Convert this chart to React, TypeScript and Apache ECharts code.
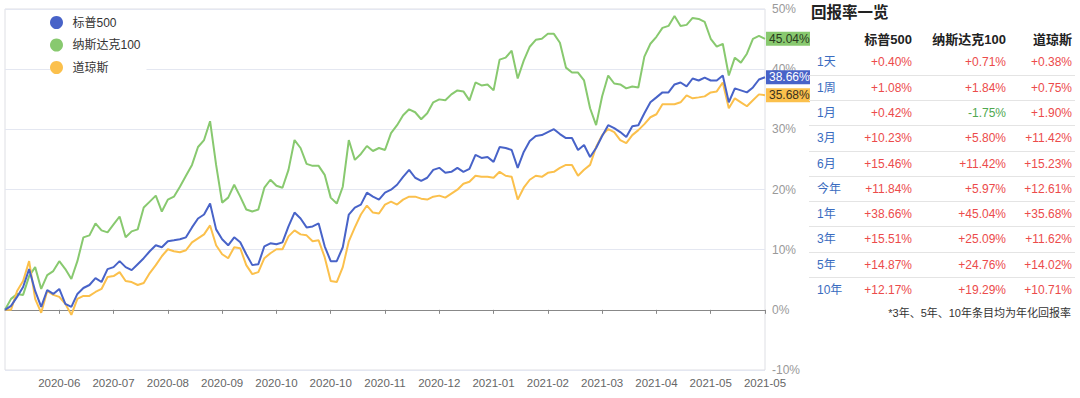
import React, { useEffect, useRef } from "react";
import * as echarts from "echarts";

const FONT = '"Liberation Sans", "Noto Sans CJK SC", sans-serif';

const seriesNames = ["标普500", "纳斯达克100", "道琼斯"];
const seriesColors = ["#4863c8", "#88c96f", "#fbc04c"];
const endLabelTextColors = ["#ffffff", "#2a3a20", "#3a3020"];

const tickLabels = [
  "2020-05", "2020-06", "2020-07", "2020-08", "2020-09", "2020-10", "2020-10", "2020-11",
  "2020-12", "2021-01", "2021-02", "2021-03", "2021-04", "2021-05", "2021-05",
];
const LABEL_EVERY = 9;

const sp500 = [
  0, 0.66, 2.15, 3.8, 6.77, 3.14, 0.5, 3.3, 2.64, 3.47,
  0.99, 0.5, 2.64, 3.63, 4.13, 5.28, 4.62, 6.77, 7.1, 8.09,
  7.1, 6.6, 7.59, 8.58, 9.74, 10.73, 10.4, 11.39, 11.55, 11.72,
  12.05, 13.7, 15.18, 15.84, 17.66, 13.37, 11.72, 10.73, 12.05, 11.22,
  9.24, 7.43, 7.59, 10.56, 11.06, 10.89, 11.22, 13.86, 16.17, 15.18,
  13.7, 13.86, 14.36, 10.56, 8.09, 8.09, 10.4, 15.84, 17.0, 17.49,
  19.47, 18.81, 18.32, 19.47, 19.97, 20.79, 22.11, 23.27, 21.95, 21.45,
  21.95, 23.27, 23.6, 22.77, 22.94, 23.6, 22.94, 23.43, 25.74, 25.25,
  25.41, 24.59, 27.06, 26.9, 26.57, 23.6, 26.24, 28.05, 28.88, 29.04,
  29.54, 30.03, 29.21, 28.55, 28.55, 26.57, 27.39, 25.41, 26.9, 28.88,
  30.69, 30.2, 29.54, 28.71, 30.53, 30.69, 32.67, 34.49, 35.31, 36.14,
  36.14, 37.46, 37.79, 37.13, 38.45, 38.12, 38.61, 38.12, 38.12, 38.94,
  34.5, 36.8, 36.47, 36.14, 36.96, 38.28, 38.66,
];

const nasdaq100 = [
  0, 1.82, 2.64, 2.48, 5.61, 7.1, 3.47, 5.78, 6.44, 8.09,
  6.77, 5.12, 8.09, 12.05, 12.38, 14.36, 13.2, 12.87, 14.19, 15.51,
  12.05, 13.04, 13.37, 17.0, 17.99, 18.98, 16.34, 18.32, 18.81, 20.46,
  22.28, 24.09, 27.06, 28.22, 31.35, 24.09, 17.82, 18.65, 20.79, 18.81,
  16.67, 16.34, 16.67, 20.3, 21.62, 20.63, 20.3, 23.27, 28.22, 26.9,
  24.26, 23.93, 23.93, 22.44, 18.65, 17.66, 20.46, 28.22, 24.92, 25.91,
  27.23, 26.4, 26.9, 26.57, 29.37, 30.69, 32.34, 33.33, 32.84, 31.68,
  32.67, 34.49, 34.98, 34.82, 35.81, 36.47, 36.3, 34.82, 37.79, 37.29,
  37.46, 36.47, 41.58, 41.91, 43.07, 38.45, 41.42, 43.73, 44.88, 45.05,
  45.87, 45.87, 44.39, 40.26, 39.44, 39.44, 38.12, 33.5, 30.7, 35.5,
  38.94, 37.62, 37.46, 36.8, 37.13, 36.96, 42.08, 44.22, 45.38, 46.86,
  47.19, 48.84, 47.19, 47.36, 48.51, 48.35, 47.85, 45.05, 43.73, 44.22,
  38.94, 41.91, 41.09, 42.57, 45.05, 45.54, 45.04,
];

const dowJones = [
  0, 0, 3.14, 4.79, 8.09, 1.82, -0.5, 3.14, 2.48, 2.15,
  0.99, -0.83, 1.82, 2.31, 2.31, 2.97, 3.47, 5.45, 5.61, 6.27,
  4.79, 4.62, 4.13, 4.46, 6.11, 7.43, 8.91, 10.07, 9.74, 9.57,
  9.9, 11.22, 11.88, 12.54, 14.03, 10.73, 9.24, 8.58, 10.4, 10.23,
  7.43, 5.94, 6.27, 8.58, 9.41, 10.07, 10.07, 12.21, 13.2, 12.54,
  12.38, 11.39, 11.55, 8.75, 4.79, 4.62, 7.1, 11.39, 13.7, 15.84,
  17.33, 16.17, 16.01, 17.49, 17.99, 17.49, 18.32, 18.81, 18.81, 18.48,
  18.32, 18.81, 18.98, 18.65, 19.31, 19.97, 20.96, 21.29, 22.28, 22.11,
  22.11, 21.95, 22.94, 22.28, 22.11, 18.32, 20.3, 21.62, 22.28, 22.11,
  22.77, 22.94, 23.6, 24.09, 24.09, 22.28, 23.27, 24.09, 27.06, 29.04,
  30.03, 29.54, 28.22, 27.72, 29.04, 29.87, 30.86, 32.01, 32.51, 34.16,
  34.16, 34.16, 34.49, 35.64, 35.15, 35.31, 35.48, 36.14, 36.3, 37.79,
  33.5, 35.15, 34.49, 33.83, 34.82, 35.81, 35.68,
];

const categories = sp500.map((_, i) => String(i));

const periods = ["1天", "1周", "1月", "3月", "6月", "今年", "1年", "3年", "5年", "10年"];
const sp500Returns = [0.4, 1.08, 0.42, 10.23, 15.46, 11.84, 38.66, 15.51, 14.87, 12.17];
const nasdaqReturns = [0.71, 1.84, -1.75, 5.8, 11.42, 5.97, 45.04, 25.09, 24.76, 19.29];
const dowReturns = [0.38, 0.75, 1.9, 11.42, 15.23, 12.61, 35.68, 11.62, 14.02, 10.71];

const fmtPct = (v: number) => (v >= 0 ? "+" : "") + v.toFixed(2) + "%";

function Chart() {
  const ref = useRef<HTMLDivElement>(null);
  useEffect(() => {
    if (!ref.current) return;
    const chart = echarts.init(ref.current, null, { renderer: "svg" });
    const allData = [sp500, nasdaq100, dowJones];
    const isLabel = (index: number) => index > 0 && index % LABEL_EVERY === 0;
    chart.setOption({
      animation: false,
      textStyle: { fontFamily: FONT },
      legend: {
        data: seriesNames,
        orient: "vertical",
        left: 50,
        top: 11,
        padding: [5, 6, 5, 0],
        backgroundColor: "#ffffff",
        icon: "circle",
        itemWidth: 22,
        itemHeight: 13,
        itemGap: 9.5,
        textStyle: { fontSize: 12, color: "#333", fontFamily: FONT },
      },
      grid: {
        left: 5,
        right: 45,
        top: 9,
        bottom: 28,
        show: true,
        borderColor: "#dedfe4",
        borderWidth: 1,
        outerBoundsMode: "none",
      },
      xAxis: [
        {
          type: "category",
          data: categories,
          boundaryGap: false,
          position: "bottom",
          axisLine: { show: false, onZero: false },
          axisTick: { show: false },
          splitLine: { show: false },
          axisLabel: {
            interval: (index: number) => isLabel(index),
            formatter: (_v: string, index: number) => tickLabels[index / LABEL_EVERY] ?? "",
            fontSize: 11.5,
            color: "#666",
            margin: 7,
            fontFamily: FONT,
          },
        },
        {
          type: "category",
          data: categories,
          boundaryGap: false,
          position: "top",
          axisLine: { show: true, onZero: true, lineStyle: { color: "#888", width: 1 } },
          axisTick: {
            show: true,
            inside: true,
            length: 4,
            interval: (index: number) => isLabel(index),
            lineStyle: { color: "#888" },
          },
          axisLabel: { show: false },
          splitLine: { show: false },
        },
      ],
      yAxis: {
        type: "value",
        position: "right",
        min: -10,
        max: 50,
        interval: 10,
        axisLine: { show: false },
        axisTick: { show: false },
        splitLine: { show: true, lineStyle: { color: "#e4e7f1", width: 1 } },
        axisLabel: {
          formatter: "{value}%",
          fontSize: 12,
          color: "#999",
          margin: 7,
          fontFamily: FONT,
        },
      },
      series: seriesNames.map((name, k) => ({
        name,
        type: "line",
        xAxisIndex: 0,
        data: allData[k],
        symbol: "none",
        showSymbol: false,
        smooth: false,
        color: seriesColors[k],
        lineStyle: { width: 2, color: seriesColors[k] },
        z: k === 0 ? 4 : 3,
        endLabel: {
          show: true,
          formatter: (p: any) => Number(p.value).toFixed(2) + "%",
          backgroundColor: seriesColors[k],
          color: endLabelTextColors[k],
          padding: [1, 3, 1, 3],
          fontSize: 12,
          distance: 1,
          fontFamily: FONT,
        },
      })),
    });
    return () => chart.dispose();
  }, []);
  return <div ref={ref} style={{ position: "absolute", left: 0, top: 0, width: 810, height: 398 }} />;
}

const RED = "#ec4b4b";
const GREEN = "#4fa84f";
const BLUE = "#3a6cc0";
const ROW_TOP = 50.35;
const ROW_H = 25.3;
const colRights = [163, 69, 3];

function Table() {
  const cols = [sp500Returns, nasdaqReturns, dowReturns];
  return (
    <div style={{ position: "absolute", left: 810, top: 0, width: 270, height: 398, fontFamily: FONT }}>
      <div style={{ position: "absolute", left: 1, top: 3, fontSize: 15.5, fontWeight: 700, color: "#222", lineHeight: "20px", whiteSpace: "nowrap" }}>
        回报率一览
      </div>
      <div style={{ position: "absolute", left: -1, top: 30, width: 266, height: 20 }}>
        {seriesNames.map((n, k) => (
          <div key={n} style={{ position: "absolute", right: colRights[k], top: 0, lineHeight: "20px", fontSize: 13, fontWeight: 600, color: "#222", whiteSpace: "nowrap" }}>
            {n}
          </div>
        ))}
      </div>
      {periods.map((p, i) => (
        <div
          key={p}
          style={{
            position: "absolute",
            left: -1,
            top: ROW_TOP + i * ROW_H,
            width: 266,
            height: ROW_H,
            boxSizing: "border-box",
            borderBottom: i < periods.length - 1 ? "1px solid #e4e4e4" : "none",
            fontSize: 12,
          }}
        >
          <div style={{ position: "absolute", left: 8, top: 0, lineHeight: ROW_H + "px", color: BLUE, whiteSpace: "nowrap" }}>{p}</div>
          {cols.map((c, k) => (
            <div key={k} style={{ position: "absolute", right: colRights[k], top: 0, lineHeight: ROW_H + "px", color: c[i] < 0 ? GREEN : RED, whiteSpace: "nowrap" }}>
              {fmtPct(c[i])}
            </div>
          ))}
        </div>
      ))}
      <div style={{ position: "absolute", right: 9, top: 306, fontSize: 11, lineHeight: "14px", color: "#333", whiteSpace: "nowrap" }}>
        *3年、5年、10年条目均为年化回报率
      </div>
    </div>
  );
}

export default function App() {
  useEffect(() => {
    document.body.style.margin = "0";
  }, []);
  return (
    <div style={{ position: "relative", width: 1080, height: 398, background: "#fff", overflow: "hidden" }}>
      <Chart />
      <Table />
    </div>
  );
}
